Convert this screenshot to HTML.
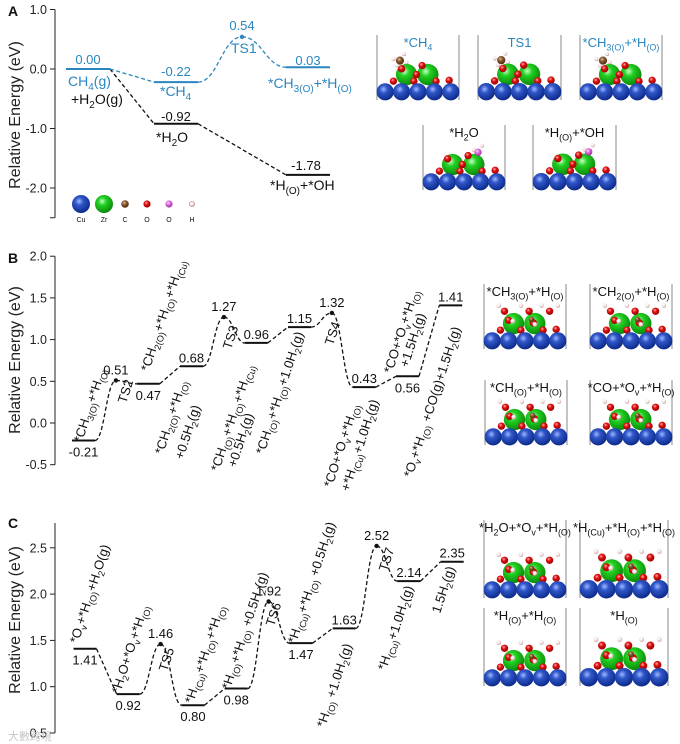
<!DOCTYPE html>
<html><head><meta charset="utf-8"><style>
html,body{margin:0;padding:0;background:#fff}
svg{display:block;font-family:"Liberation Sans",Arial,sans-serif}
</style></head><body>
<svg id="fig" width="680" height="744" viewBox="0 0 680 744" xmlns="http://www.w3.org/2000/svg">
<defs>
<radialGradient id="gCu" cx="40%" cy="35%" r="65%"><stop offset="0" stop-color="#9fb8ff"/><stop offset="0.35" stop-color="#2f56c8"/><stop offset="1" stop-color="#0d2a8a"/></radialGradient>
<radialGradient id="gZr" cx="40%" cy="35%" r="65%"><stop offset="0" stop-color="#c8ffc8"/><stop offset="0.35" stop-color="#22d022"/><stop offset="1" stop-color="#0a8a0a"/></radialGradient>
<radialGradient id="gO" cx="40%" cy="35%" r="65%"><stop offset="0" stop-color="#ffb0b0"/><stop offset="0.4" stop-color="#e01010"/><stop offset="1" stop-color="#900"/></radialGradient>
<radialGradient id="gC" cx="40%" cy="35%" r="65%"><stop offset="0" stop-color="#e0c0a0"/><stop offset="0.4" stop-color="#8a5a30"/><stop offset="1" stop-color="#4a2a10"/></radialGradient>
<radialGradient id="gP" cx="40%" cy="35%" r="65%"><stop offset="0" stop-color="#ffe0ff"/><stop offset="0.4" stop-color="#e070e0"/><stop offset="1" stop-color="#a030a0"/></radialGradient>
<radialGradient id="gH" cx="40%" cy="35%" r="65%"><stop offset="0" stop-color="#fff"/><stop offset="0.6" stop-color="#f4e4e4"/><stop offset="1" stop-color="#c09090"/></radialGradient>
</defs>
<g id="root"></g>
</svg>
<script>
// ---- Panel A data ----
const aBlueStates = ["CH4(g)+H2O(g)", "*CH4", "TS1", "*CH3(O)+*H(O)"];
const aBlueEnergy = [0.00, -0.22, 0.54, 0.03];
const aBlueIdx = [0, 2, 3.5, 5];
const aBlueIsTS = [false, false, true, false];
const aBlackStates = ["CH4(g)+H2O(g)", "*H2O", "*H(O)+*OH"];
const aBlackEnergy = [0.00, -0.92, -1.78];
const aBlackIdx = [0, 2, 5];
const aTicks = [1.0, 0.0, -1.0, -2.0];
const aTickLabels = ["1.0", "0.0", "-1.0", "-2.0"];
// ---- Panel B data ----
const bStates = ["*CH3(O)+*H(O)","TS2","*CH2(O)+*H(O)+*H(Cu)","*CH2(O)+*H(O)+0.5H2","TS3","*CH(O)+*H(O)+*H(Cu)","*CH(O)+*H(O)+1.0H2","TS4","*CO+*Ov+*H(O)+*H(Cu)","*CO+*Ov+*H(O)+1.5H2","*Ov+*H(O)+CO+1.5H2"];
const bEnergy = [-0.21, 0.51, 0.47, 0.68, 1.27, 0.96, 1.15, 1.32, 0.43, 0.56, 1.41];
const bIdx = [0, 1.5, 3, 5, 6.5, 8, 10, 11.5, 13, 15, 17];
const bIsTS = [false, true, false, false, true, false, false, true, false, false, false];
const bLabelBelow = [true, false, true, false, false, false, false, false, false, true, false];
const bTicks = [2.0, 1.5, 1.0, 0.5, 0.0, -0.5];
const bTickLabels = ["2.0", "1.5", "1.0", "0.5", "0.0", "-0.5"];
// ---- Panel C data ----
const cStates = ["*Ov+*H(O)+H2O(g)","*H2O+*Ov+*H(O)","TS5","*H(Cu)+*H(O)+*H(O)","*H(O)+*H(O)+0.5H2","TS6","*H(Cu)+*H(O)+0.5H2","*H(O)+1.0H2","TS7","*H(Cu)+1.0H2","1.5H2"];
const cEnergy = [1.41, 0.92, 1.46, 0.80, 0.98, 1.92, 1.47, 1.63, 2.52, 2.14, 2.35];
const cIdx = [0, 2, 3.5, 5, 7, 8.5, 10, 12, 13.5, 15, 17];
const cIsTS = [false, false, true, false, false, true, false, false, true, false, false];
const cLabelBelow = [true, true, false, true, true, false, true, false, false, false, false];
const cTicks = [2.5, 2.0, 1.5, 1.0, 0.5];
const cTickLabels = ["2.5", "2.0", "1.5", "1.0", "0.5"];

const NS = "http://www.w3.org/2000/svg";
const root = document.getElementById("root");
function el(tag, attrs, parent) {
  const e = document.createElementNS(NS, tag);
  for (const k in attrs) e.setAttribute(k, attrs[k]);
  (parent || root).appendChild(e);
  return e;
}
function rich(s, fs) {
  const sub = Math.round(fs * 0.72);
  return s.replace(/_\{([^}]*)\}/g, (m, t) => `<tspan font-size="${sub}" dy="${fs*0.28}">${t}</tspan><tspan dy="${-fs*0.28}">\u200B</tspan>`);
}
function txt(x, y, s, opt) {
  opt = opt || {};
  const fs = opt.fs || 13;
  const t = el("text", {x: x, y: y, "font-size": fs, fill: opt.fill || "#111", "text-anchor": opt.anchor || "start"});
  if (opt.rot) t.setAttribute("transform", `rotate(${opt.rot} ${x} ${y})`);
  if (opt.bold) t.setAttribute("font-weight", "bold");
  t.innerHTML = rich(s, fs);
  
  
  return t;
}
function makeAxis(axX, yScale, ticks, labels, top, bottom, name) {
  const g = el("g", {});
  
  
  el("line", {x1: axX, x2: axX, y1: top, y2: bottom, stroke: "#222", "stroke-width": 1}, g);
  ticks.forEach((v, i) => {
    const y = yScale(v);
    const tk = el("line", {x1: axX - 5, x2: axX, y1: y, y2: y, stroke: "#222", "stroke-width": 1}, g);
    
    
    const t = el("text", {x: axX - 8, y: y + 4.5, "font-size": 12.5, "text-anchor": "end", fill: "#222"}, g);
    t.textContent = labels[i];
    
    
  });
}
function profile(xs, ens, isTS, xScale, yScale, hw, color, name) {
  const g = el("g", {});
  
  
  const pts = [];
  for (let i = 0; i < xs.length; i++) {
    const cx = xScale(xs[i]), y = yScale(ens[i]);
    if (isTS[i]) {
      const d = el("circle", {cx: cx, cy: y, r: 2.2, fill: color}, g);
      
      
      pts.push({l: cx, r: cx, y: y, ts: true});
    } else {
      const l = el("line", {x1: cx - hw, x2: cx + hw, y1: y, y2: y, stroke: color, "stroke-width": 2}, g);
      
      
      pts.push({l: cx - hw, r: cx + hw, y: y, ts: false});
    }
  }
  let d = "";
  for (let i = 0; i < pts.length - 1; i++) {
    const a = pts[i], b = pts[i + 1];
    if (a.ts || b.ts) {
      const dx = b.l - a.r;
      d += `M${a.r},${a.y} C${a.r + dx * 0.45},${a.y} ${b.l - dx * 0.45},${b.y} ${b.l},${b.y} `;
    } else {
      d += `M${a.r},${a.y} L${b.l},${b.y} `;
    }
  }
  const p = el("path", {d: d, fill: "none", stroke: color, "stroke-width": 1.3, "stroke-dasharray": "4,2.5"}, g);
  
  
  return pts;
}
function valueLabels(pts, ens, below, color) {
  pts.forEach((p, i) => {
    const x = (p.l + p.r) / 2;
    const y = below && below[i] ? p.y + 16 : p.y - 4;
    txt(x, p.ts ? p.y - 6 : y, ens[i].toFixed(2), {fs: 13, anchor: "middle", fill: color, name: 'energy-value'});
  });
}
function yTitle(x, y) {
  const t = el("text", {x: x, y: y, "font-size": 16, "text-anchor": "middle", fill: "#222", transform: `rotate(-90 ${x} ${y})`});
  t.textContent = "Relative Energy (eV)";
  
  
}
function struct(x, y, w, h, label, lc, variant) {
  const g = el("g", {});
  
  
  el("line", {x1: x, x2: x, y1: y, y2: y + h, stroke: "#888", "stroke-width": 1}, g);
  el("line", {x1: x + w, x2: x + w, y1: y, y2: y + h, stroke: "#888", "stroke-width": 1}, g);
  const r = w / 10;
  const by = y + h - r;
  const gz = [[x + w * 0.36, by - r * 2.1], [x + w * 0.62, by - r * 2.1]];
  gz.forEach(c => el("circle", {cx: c[0], cy: c[1], r: r * 1.3, fill: "url(#gZr)"}, g));
  const os = variant === 2 ?
    [[0.2,-1.3],[0.45,-1.3],[0.72,-1.3],[0.88,-1.4],[0.3,-2.5],[0.6,-2.2],[0.25,-3.6],[0.55,-3.6],[0.8,-3.6]] :
    [[0.2,-1.3],[0.45,-1.3],[0.72,-1.3],[0.88,-1.4],[0.3,-2.8],[0.55,-3.2],[0.48,-2.1]];
  os.forEach(o => el("circle", {cx: x + w * o[0], cy: by + r * o[1], r: r * 0.45, fill: "url(#gO)"}, g));
  for (let i = 0; i < 5; i++) el("circle", {cx: x + r + i * 2 * r, cy: by, r: r * 1.05, fill: "url(#gCu)"}, g);
  if (variant === 2) {
    [[0.18,-4.3],[0.45,-4.3],[0.7,-4.3],[0.9,-4.3],[0.35,-2.4],[0.62,-2.0]].forEach(o => el("circle", {cx: x + w * o[0], cy: by + r * o[1], r: r * 0.28, fill: "url(#gH)"}, g));
    el("circle", {cx: x + w * 0.58, cy: by - r * 2.6, r: r * 0.35, fill: "url(#gC)"}, g);
  } else if (variant === 1) {
    el("circle", {cx: x + w * 0.67, cy: by - r * 3.6, r: r * 0.45, fill: "url(#gP)"}, g);
    el("circle", {cx: x + w * 0.62, cy: by - r * 3.9, r: r * 0.25, fill: "url(#gH)"}, g);
    el("circle", {cx: x + w * 0.72, cy: by - r * 4.4, r: r * 0.25, fill: "url(#gH)"}, g);
  } else {
    el("circle", {cx: x + w * 0.28, cy: by - r * 3.8, r: r * 0.5, fill: "url(#gC)"}, g);
    [[0.2,-4.0],[0.33,-4.6],[0.24,-3.2],[0.36,-3.6]].forEach(o => el("circle", {cx: x + w * o[0], cy: by + r * o[1], r: r * 0.25, fill: "url(#gH)"}, g));
  }
  txt(x + w / 2, y + 12, label, {fs: 13, anchor: "middle", fill: lc, name: 'structure-label'});
}

// ================= Panel A =================
const BLUE = "#2a86c0";
const aX = i => 88 + i * 44;
const aY = v => 69 - v * 59.5;
txt(8, 16, "A", {fs: 14, bold: true, name: 'panel-label-a'});
makeAxis(55, aY, aTicks, aTickLabels, aY(1.0), aY(-2.5), 'y-axis-a');
el("line", {x1: 50, x2: 55, y1: aY(-2.5), y2: aY(-2.5), stroke: "#222"});
yTitle(20, 115);
const aBk = profile(aBlackIdx, aBlackEnergy, [false,false,false], aX, aY, 22, "#111", 'series-water-path');
const aBl = profile(aBlueIdx, aBlueEnergy, aBlueIsTS, aX, aY, 22, BLUE, 'series-methane-path');
txt(88, 64, "0.00", {anchor: "middle", fill: BLUE, name: 'energy-value'});
txt(176, 76, "-0.22", {anchor: "middle", fill: BLUE, name: 'energy-value'});
txt(242, 30, "0.54", {anchor: "middle", fill: BLUE, name: 'energy-value'});
txt(308, 65, "0.03", {anchor: "middle", fill: BLUE, name: 'energy-value'});
txt(176, 121, "-0.92", {anchor: "middle", name: 'energy-value'});
txt(306, 170, "-1.78", {anchor: "middle", name: 'energy-value'});
txt(68, 86, "CH_{4}(g)", {fs: 14, fill: BLUE});
txt(71, 104, "+H_{2}O(g)", {fs: 14});
txt(160, 96, "*CH_{4}", {fs: 14, fill: BLUE});
txt(231, 53, "TS1", {fs: 14, fill: BLUE});
txt(268, 88, "*CH_{3(O)}+*H_{(O)}", {fs: 14, fill: BLUE});
txt(156, 142, "*H_{2}O", {fs: 14});
txt(270, 190, "*H_{(O)}+*OH", {fs: 14});
const atomNames = ["Cu", "Zr", "C", "O", "O", "H"];
const atomFill = ["url(#gCu)", "url(#gZr)", "url(#gC)", "url(#gO)", "url(#gP)", "url(#gH)"];
const atomR = [9, 9, 3.8, 3.6, 3.6, 2.6];
const atomX = [81, 104, 125, 147, 169, 192];
atomNames.forEach((n, i) => {
  const c = el("circle", {cx: atomX[i], cy: 204, r: atomR[i], fill: atomFill[i], stroke: i === 5 ? "#b08080" : "none", "stroke-width": 0.6});
  
  
  txt(atomX[i], 222, n, {fs: 7, anchor: "middle", name: 'atom-legend-label'});
});
struct(377, 35, 82, 65, "*CH_{4}", BLUE, 0);
struct(478, 35, 83, 65, "TS1", BLUE, 0);
struct(580, 35, 82, 65, "*CH_{3(O)}+*H_{(O)}", BLUE, 0);
struct(423, 125, 82, 65, "*H_{2}O", "#111", 1);
struct(533, 125, 83, 65, "*H_{(O)}+*OH", "#111", 1);

// ================= Panel B =================
const bX = i => 83.5 + i * 21.6;
const bY = v => 423 - v * 83.4;
txt(8, 263, "B", {fs: 14, bold: true, name: 'panel-label-b'});
makeAxis(55, bY, bTicks, bTickLabels, bY(2.0), bY(-0.5), 'y-axis-b');
yTitle(20, 360);
const bp = profile(bIdx, bEnergy, bIsTS, bX, bY, 11.5, "#111", 'series-b-path');
valueLabels(bp, bEnergy, bLabelBelow, "#111");
const R = -72;
txt(82, 443, "*CH_{3(O)}+*H_{(O)}", {rot: R});
txt(126, 404, "TS2", {rot: R});
txt(149, 372, "*CH_{2(O)}+*H_{(O)}+*H_{(Cu)}", {rot: R});
txt(163, 455, "*CH_{2(O)}+*H_{(O)}", {rot: R});
txt(183, 460, "+0.5H_{2}(g)", {rot: R});
txt(231, 350, "TS3", {rot: R});
txt(219, 472, "*CH_{(O)}+*H_{(O)}+*H_{(Cu)}", {rot: R});
txt(236, 468, "+0.5H_{2}(g)", {rot: R});
txt(264, 455, "*CH_{(O)}+*H_{(O)}+1.0H_{2}(g)", {rot: R});
txt(333, 346, "TS4", {rot: R});
txt(332, 488, "*CO+*O_{v}+*H_{(O)}", {rot: R});
txt(349, 492, "+*H_{(Cu)}+1.0H_{2}(g)", {rot: R});
txt(392, 374, "*CO+*O_{v}+*H_{(O)}", {rot: R});
txt(408, 368, "+1.5H_{2}(g)", {rot: R});
txt(412, 478, "*O_{v}+*H_{(O)} +CO(g)+1.5H_{2}(g)", {rot: R});
struct(484, 284, 82, 65, "*CH_{3(O)}+*H_{(O)}", "#111", 2);
struct(590, 284, 82, 65, "*CH_{2(O)}+*H_{(O)}", "#111", 2);
struct(485, 380, 82, 65, "*CH_{(O)}+*H_{(O)}", "#111", 2);
struct(590, 380, 82, 65, "*CO+*O_{v}+*H_{(O)}", "#111", 2);

// ================= Panel C =================
const cX = i => 85 + i * 21.6;
const cY = v => 733 - (v - 0.5) * 92.6;
txt(8, 528, "C", {fs: 14, bold: true, name: 'panel-label-c'});
makeAxis(55, cY, cTicks, cTickLabels, 523, cY(0.5), 'y-axis-c');
yTitle(20, 620);
const cp = profile(cIdx, cEnergy, cIsTS, cX, cY, 11.5, "#111", 'series-c-path');
valueLabels(cp, cEnergy, cLabelBelow, "#111");
txt(78, 644, "*O_{v}+*H_{(O)}+H_{2}O(g)", {rot: R});
txt(120, 694, "*H_{2}O+*O_{v}+*H_{(O)}", {rot: R});
txt(167, 672, "TS5", {rot: R});
txt(193, 704, "*H_{(Cu)}+*H_{(O)}+*H_{(O)}", {rot: R});
txt(230, 690, "*H_{(O)}+*H_{(O)} +0.5H_{2}(g)", {rot: R});
txt(274, 627, "TS6", {rot: R});
txt(296, 644, "*H_{(Cu)}+*H_{(O)} +0.5H_{2}(g)", {rot: R});
txt(325, 728, "*H_{(O)} +1.0H_{2}(g)", {rot: R});
txt(387, 572, "TS7", {rot: R});
txt(386, 671, "*H_{(Cu)}+1.0H_{2}(g)", {rot: R});
txt(440, 614, "1.5H_{2}(g)", {rot: R});
struct(484, 520, 82, 78, "*H_{2}O+*O_{v}+*H_{(O)}", "#111", 2);
struct(580, 520, 88, 78, "*H_{(Cu)}+*H_{(O)}+*H_{(O)}", "#111", 2);
struct(484, 608, 82, 78, "*H_{(O)}+*H_{(O)}", "#111", 2);
struct(580, 608, 88, 78, "*H_{(O)}", "#111", 2);
txt(8, 740, "大數跨境", {fs: 11, fill: "#c8c8c8", name: 'watermark'});
</script>
</body></html>
